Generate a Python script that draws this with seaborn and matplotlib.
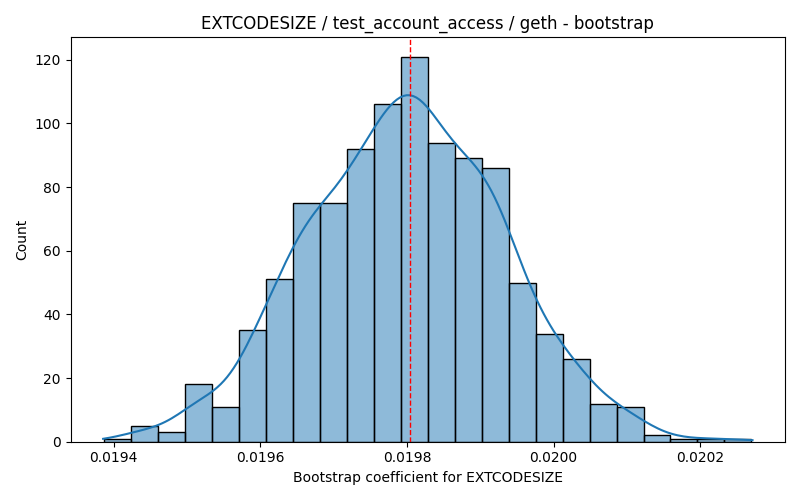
import numpy as np
import matplotlib
matplotlib.use("Agg")
import matplotlib.pyplot as plt
import seaborn as sns

# histogram (1000 bootstrap samples, 24 bins)
bin_start = 0.0193872
bin_width = 0.00003678
counts = [1, 5, 3, 18, 11, 35, 51, 75, 75, 92, 106, 121,
          94, 89, 86, 50, 34, 26, 12, 11, 2, 1, 1, 1]
estimate = 0.019804

title = "EXTCODESIZE / test_account_access / geth - bootstrap"
xlabel = "Bootstrap coefficient for EXTCODESIZE"


def main():
    edges = bin_start + bin_width * np.arange(len(counts) + 1)
    centers = (edges[:-1] + edges[1:]) / 2
    samples = np.repeat(centers, counts)

    fig, ax = plt.subplots(figsize=(8, 5), dpi=100)
    sns.histplot(samples, bins=edges, kde=True, ax=ax,
                 kde_kws={"cut": 0.6})
    ax.axvline(estimate, color="red", linestyle="--", linewidth=1)

    ax.set_title(title)
    ax.set_xlabel(xlabel)
    ax.set_ylabel("Count")

    fig.tight_layout()
    fig.savefig("out.png")


if __name__ == "__main__":
    main()
